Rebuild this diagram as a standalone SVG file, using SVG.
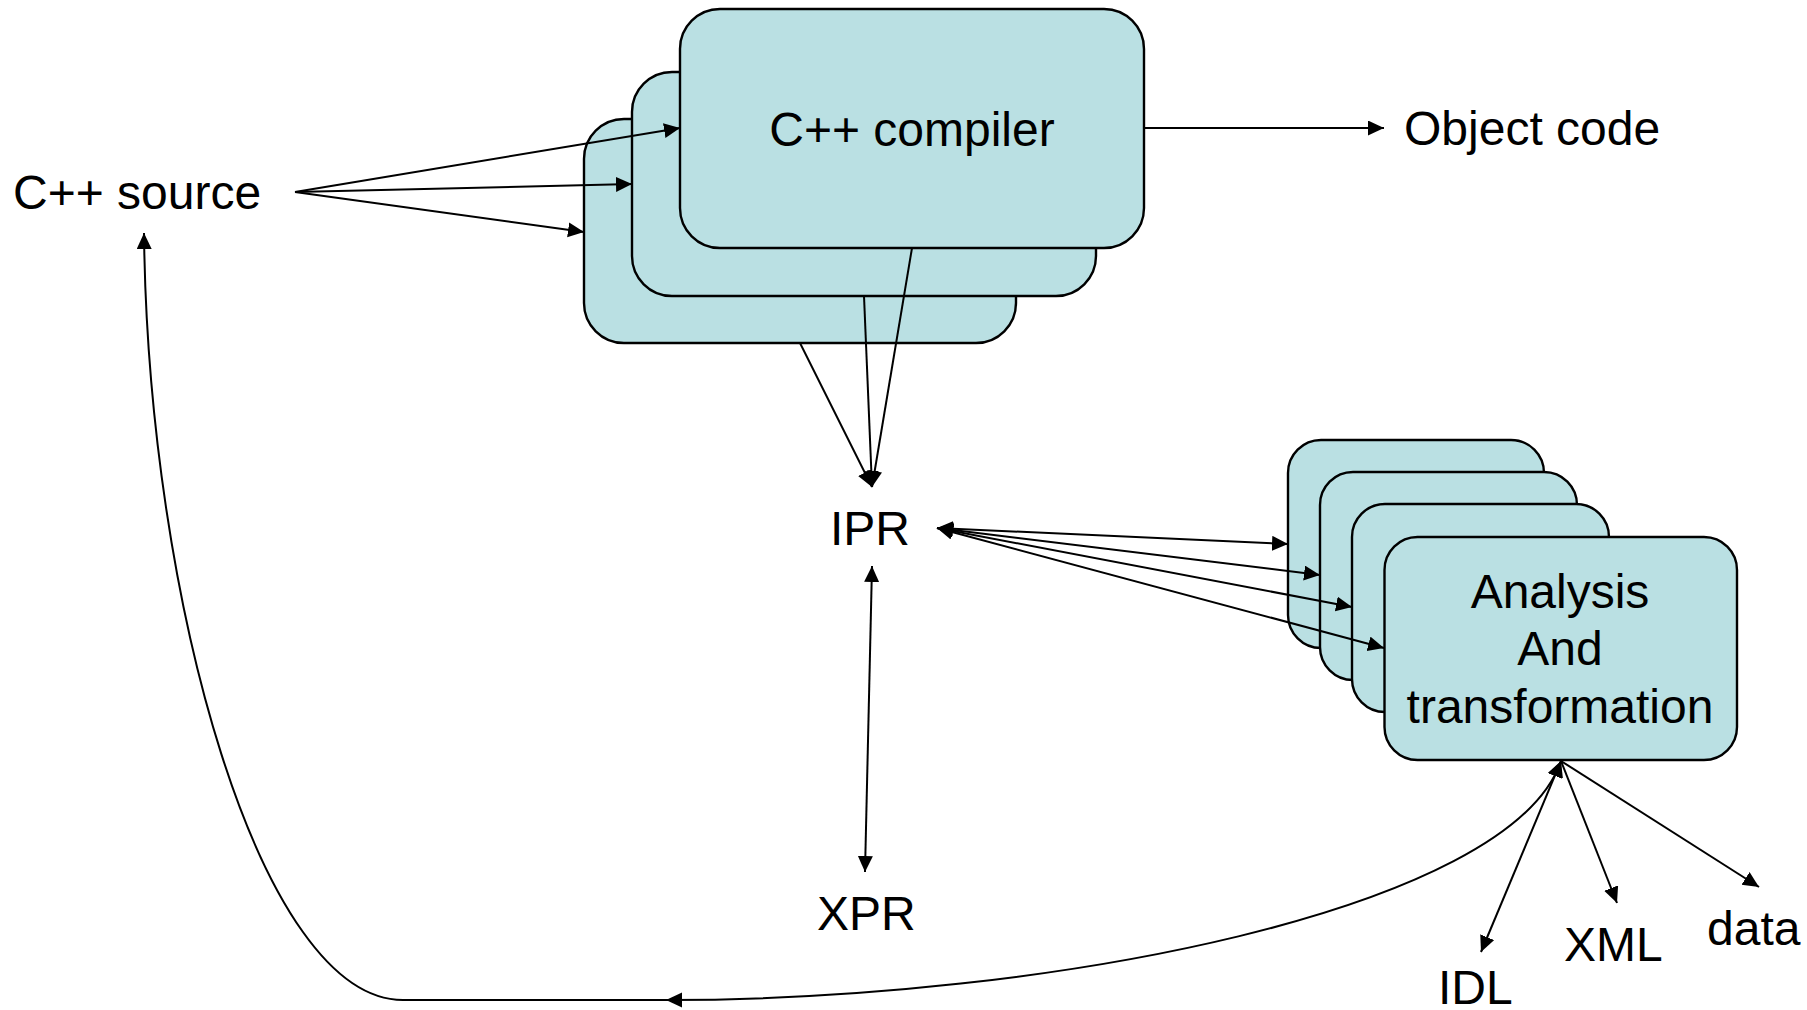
<svg xmlns="http://www.w3.org/2000/svg" width="1807" height="1010" viewBox="0 0 1807 1010">
  <style>
    .box { fill: #BAE0E3; stroke: #000; stroke-width: 2.4; }
    .lbl { font-family: "Liberation Sans", Arial, sans-serif; font-size: 48px; fill: #000; }
    .mid { text-anchor: middle; }
    .wire { fill: none; stroke: #000; stroke-width: 2; }
  </style>
  <defs>
    <marker id="arrow" markerUnits="userSpaceOnUse" markerWidth="17" markerHeight="16" refX="16" refY="7.5" orient="auto-start-reverse" viewBox="0 0 17 16">
      <path d="M0,0 L16,7.5 L0,15 Z" fill="#000"/>
    </marker>
  </defs>
  <rect width="1807" height="1010" fill="#fff"/>

  <!-- compiler stack, back to front -->
  <g id="compiler-3">
    <rect class="box" x="584" y="119" width="432" height="224" rx="40" ry="40"/>
  </g>
  <g id="compiler-2">
    <rect class="box" x="632" y="72" width="464" height="224" rx="40" ry="40"/>
  </g>
  <g id="compiler">
    <rect class="box" x="680" y="9" width="464" height="239" rx="40" ry="40"/>
    <text class="lbl mid" x="912" y="146">C++ compiler</text>
  </g>

  <!-- analysis stack, back to front -->
  <g id="analysis-4">
    <rect class="box" x="1288" y="440" width="256" height="208" rx="33" ry="33"/>
  </g>
  <g id="analysis-3">
    <rect class="box" x="1320" y="472" width="257" height="208" rx="33" ry="33"/>
  </g>
  <g id="analysis-2">
    <rect class="box" x="1352" y="504" width="257" height="208" rx="33" ry="33"/>
  </g>
  <g id="analysis">
    <rect class="box" x="1384.5" y="537" width="352.5" height="223" rx="33" ry="33"/>
    <text class="lbl mid" x="1560" y="608">Analysis</text>
    <text class="lbl mid" x="1560" y="665">And</text>
    <text class="lbl mid" x="1560" y="723">transformation</text>
  </g>

  <!-- free-standing labels -->
  <g id="source"><text class="lbl" x="13" y="209">C++ source</text></g>
  <g id="object-code"><text class="lbl" x="1404" y="145">Object code</text></g>
  <g id="ipr"><text class="lbl" x="830" y="545">IPR</text></g>
  <g id="xpr"><text class="lbl" x="817" y="930">XPR</text></g>
  <g id="idl"><text class="lbl" x="1438" y="1004">IDL</text></g>
  <g id="xml"><text class="lbl" x="1564" y="961">XML</text></g>
  <g id="data"><text class="lbl" x="1707" y="945">data</text></g>

  <!-- connectors -->
  <g id="connectors">
    <!-- source into each compiler -->
    <line class="wire" x1="295" y1="192" x2="680" y2="128" marker-end="url(#arrow)"/>
    <line class="wire" x1="295" y1="192" x2="632" y2="184" marker-end="url(#arrow)"/>
    <line class="wire" x1="295" y1="192" x2="584" y2="232" marker-end="url(#arrow)"/>
    <!-- compiler output -->
    <line class="wire" x1="1144" y1="128" x2="1384" y2="128" marker-end="url(#arrow)"/>
    <!-- compilers into IPR -->
    <line class="wire" x1="800" y1="343" x2="872" y2="487" marker-end="url(#arrow)"/>
    <line class="wire" x1="864" y1="296" x2="872" y2="487" marker-end="url(#arrow)"/>
    <line class="wire" x1="912" y1="248" x2="872" y2="487" marker-end="url(#arrow)"/>
    <!-- IPR and the analysis tools -->
    <line class="wire" x1="937" y1="528" x2="1288" y2="544" marker-start="url(#arrow)" marker-end="url(#arrow)"/>
    <line class="wire" x1="937" y1="528" x2="1320" y2="575" marker-start="url(#arrow)" marker-end="url(#arrow)"/>
    <line class="wire" x1="937" y1="528" x2="1352" y2="607" marker-start="url(#arrow)" marker-end="url(#arrow)"/>
    <line class="wire" x1="937" y1="528" x2="1384" y2="648" marker-start="url(#arrow)" marker-end="url(#arrow)"/>
    <!-- IPR and XPR -->
    <line class="wire" x1="872" y1="566" x2="865" y2="872" marker-start="url(#arrow)" marker-end="url(#arrow)"/>
    <!-- analysis outputs -->
    <line class="wire" x1="1561" y1="761" x2="1481" y2="952" marker-start="url(#arrow)" marker-end="url(#arrow)"/>
    <line class="wire" x1="1561" y1="761" x2="1617" y2="903" marker-end="url(#arrow)"/>
    <line class="wire" x1="1561" y1="761" x2="1759" y2="887" marker-end="url(#arrow)"/>
    <!-- feedback loop back to the source -->
    <path class="wire" d="M666,1000 C1050,1000 1510,910 1561,761" marker-start="url(#arrow)" marker-end="url(#arrow)"/>
    <path class="wire" d="M666,1000 L403,1000 C260,1000 148,600 144,233" marker-end="url(#arrow)"/>
  </g>
</svg>
